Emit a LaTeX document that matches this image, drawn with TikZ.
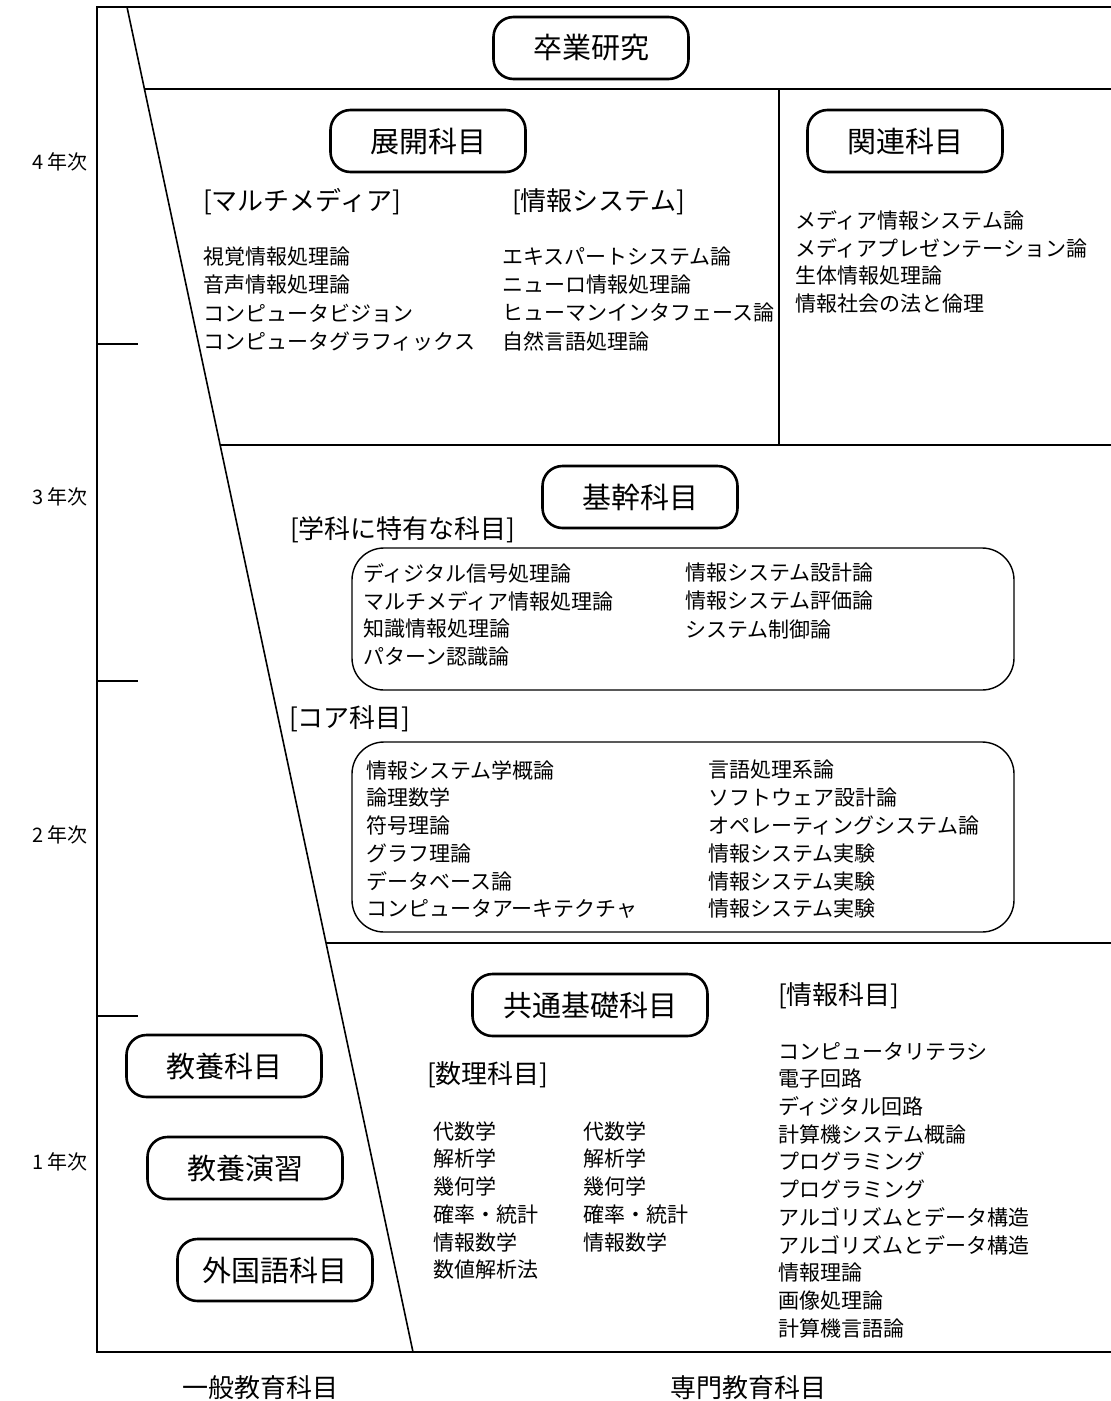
\documentclass[tikz,border=0pt]{standalone}
\usepackage{fontspec}
\setmainfont{Noto Sans CJK JP}
\usetikzlibrary{calc}
\begin{document}
\begin{tikzpicture}[x=1pt,y=-1pt,
  frame/.style={line width=1.6pt},
  title/.style={draw,line width=2.6pt,rounded corners=20pt,minimum width=195pt,minimum height=62pt,inner sep=0pt,font=\fontsize{29}{32}\selectfont},
  listbox/.style={line width=1.4pt,rounded corners=32pt},
  item/.style={anchor=west,inner sep=0pt,font=\fontsize{21}{24}\selectfont},
  section/.style={anchor=west,inner sep=0pt,font=\fontsize{26}{30}\selectfont},
  year/.style={inner sep=0pt,font=\fontsize{20}{24}\selectfont},
  bottomlabel/.style={inner sep=0pt,font=\fontsize{26}{30}\selectfont}]
\useasboundingbox (0,0) rectangle (1111,1401);
% frame
\coordinate (ftr) at (1111,7);
\coordinate (ftl) at (97,7);
\coordinate (fbl) at (97,1352);
\coordinate (fbr) at (1111,1352);
\draw[frame] (ftr) -- (ftl) -- (fbl) -- (fbr);
% diagonal
\coordinate (dtop) at (127,7);
\coordinate (dbot) at (413,1352);
\draw[frame] (dtop) -- (dbot);
% horizontal separators
\coordinate (h1) at ($(dtop)!0.06097!(dbot)$);
\coordinate (h2) at ($(dtop)!0.32565!(dbot)$);
\coordinate (h3) at ($(dtop)!0.69591!(dbot)$);
\coordinate (h1r) at (1111,89);
\coordinate (h2r) at (1111,445);
\coordinate (h3r) at (1111,943);
\draw[frame] (h1) -- (h1r);
\draw[frame] (h2) -- (h2r);
\draw[frame] (h3) -- (h3r);
% vertical separator
\coordinate (v1) at (779,89);
\coordinate (v2) at (779,445);
\draw[frame] (v1) -- (v2);
% ticks
\foreach \y [count=\i] in {344,681,1016}{
  \coordinate (ta\i) at (97,\y);
  \coordinate (tb\i) at (138,\y);
  \draw[frame] (ta\i) -- (tb\i);
}
% year labels
\node[year] (y4) at (60,162) {4 年次};
\node[year] (y3) at (60,497) {3 年次};
\node[year] (y2) at (60,835) {2 年次};
\node[year] (y1) at (60,1162) {1 年次};
% titles
\node[title] (sotsu) at (591,48) {卒業研究};
\node[title] (tenkai) at (428,141) {展開科目};
\node[title] (kanren) at (905,141) {関連科目};
\node[title] (kikan) at (640,497) {基幹科目};
\node[title,minimum width=235pt] (kyotsu) at (590,1005) {共通基礎科目};
\node[title] (kyoyo) at (224,1066) {教養科目};
\node[title] (enshu) at (245,1168) {教養演習};
\node[title] (gaikoku) at (275,1270) {外国語科目};
% section labels
\node[section] (smm) at (203,202) {[マルチメディア]};
\node[section] (sis) at (512,202) {[情報システム]};
\node[section] (sgk) at (290,530) {[学科に特有な科目]};
\node[section] (sco) at (289,719) {[コア科目]};
\node[section] (sjo) at (778,996) {[情報科目]};
\node[section] (ssu) at (427,1075) {[数理科目]};
% multimedia
\foreach \t [count=\i] in {視覚情報処理論,音声情報処理論,コンピュータビジョン,コンピュータグラフィックス}
  \node[item] (mm\i) at (203,{257+(\i-1)*28}) {\t};
\foreach \t [count=\i] in {エキスパートシステム論,ニューロ情報処理論,ヒューマンインタフェース論,自然言語処理論}
  \node[item] (is\i) at (502,{257+(\i-1)*28}) {\t};
\foreach \t [count=\i] in {メディア情報システム論,メディアプレゼンテーション論,生体情報処理論,情報社会の法と倫理}
  \node[item] (kr\i) at (795,{220+(\i-1)*28}) {\t};
% list boxes
\coordinate (b1a) at (352,548);
\coordinate (b1b) at (1014,690);
\draw[listbox] (b1a) rectangle (b1b);
\coordinate (b2a) at (352,742);
\coordinate (b2b) at (1014,932);
\draw[listbox] (b2a) rectangle (b2b);
\foreach \t [count=\i] in {ディジタル信号処理論,マルチメディア情報処理論,知識情報処理論,パターン認識論}
  \node[item] (ga\i) at (363,{573+(\i-1)*28}) {\t};
\foreach \t [count=\i] in {情報システム設計論,情報システム評価論,システム制御論}
  \node[item] (gb\i) at (685,{573+(\i-1)*28}) {\t};
\foreach \t [count=\i] in {情報システム学概論,論理数学,符号理論,グラフ理論,データベース論,コンピュータアーキテクチャ}
  \node[item] (ca\i) at (366,{770+(\i-1)*27.8}) {\t};
\foreach \t [count=\i] in {言語処理系論,ソフトウェア設計論,オペレーティングシステム論,情報システム実験,情報システム実験,情報システム実験}
  \node[item] (cb\i) at (708,{770+(\i-1)*27.8}) {\t};
% math
\foreach \t [count=\i] in {代数学,解析学,幾何学,確率・統計,情報数学,数値解析法}
  \node[item] (sa\i) at (433,{1131+(\i-1)*27.8}) {\t};
\foreach \t [count=\i] in {代数学,解析学,幾何学,確率・統計,情報数学}
  \node[item] (sb\i) at (583,{1131+(\i-1)*27.8}) {\t};
\foreach \t [count=\i] in {コンピュータリテラシ,電子回路,ディジタル回路,計算機システム概論,プログラミング,プログラミング,アルゴリズムとデータ構造,アルゴリズムとデータ構造,情報理論,画像処理論,計算機言語論}
  \node[item] (jo\i) at (778,{1051+(\i-1)*27.7}) {\t};
% bottom labels
\node[bottomlabel] (ippan) at (260,1388) {一般教育科目};
\node[bottomlabel] (senmon) at (748,1388) {専門教育科目};
\end{tikzpicture}
\end{document}
